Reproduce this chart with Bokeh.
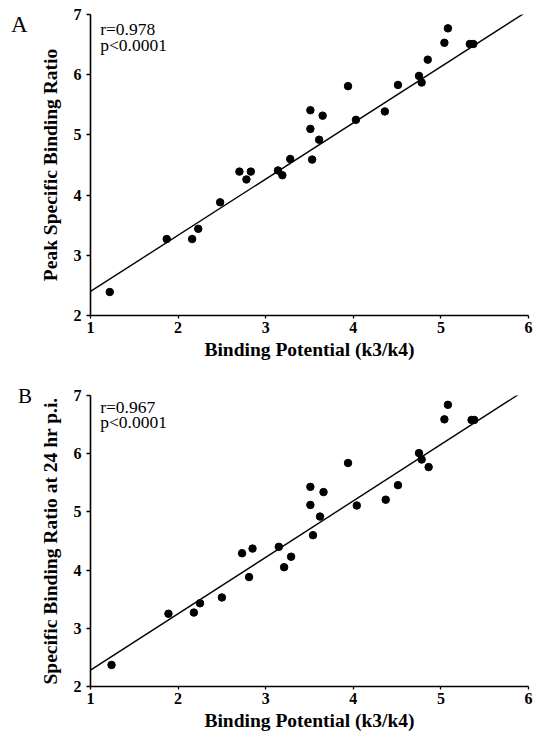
from bokeh.plotting import figure
from bokeh.models import Label, Div
from bokeh.layouts import column, row
from bokeh.embed import file_html
from bokeh.resources import INLINE

# ---- data ----
bp_a = [1.22, 1.87, 2.16, 2.23, 2.48, 2.70, 2.78, 2.83, 3.14, 3.19, 3.28, 3.53, 3.61, 3.51,
        3.51, 3.65, 3.94, 4.03, 4.36, 4.51, 4.75, 4.78, 4.85, 5.04, 5.08, 5.33, 5.37]
peak_ratio = [2.39, 3.27, 3.27, 3.44, 3.88, 4.39, 4.26, 4.39, 4.41, 4.33, 4.60, 4.59, 4.92, 5.10,
              5.41, 5.32, 5.81, 5.25, 5.39, 5.83, 5.98, 5.87, 6.25, 6.53, 6.77, 6.51, 6.51]
fit_a_x = [1.0, 5.94]
fit_a_y = [2.40, 7.01]

bp_b = [1.24, 1.89, 2.18, 2.25, 2.50, 2.73, 2.85, 2.81, 3.15, 3.21, 3.29, 3.51, 3.66, 3.51,
        3.62, 3.54, 3.94, 4.04, 4.37, 4.51, 4.75, 4.78, 4.86, 5.04, 5.08, 5.35, 5.38]
ratio_24h = [2.37, 3.25, 3.27, 3.43, 3.53, 4.29, 4.37, 3.88, 4.40, 4.05, 4.23, 5.43, 5.34, 5.12,
             4.92, 4.60, 5.84, 5.11, 5.21, 5.46, 6.01, 5.90, 5.77, 6.59, 6.84, 6.58, 6.58]
fit_b_x = [1.0, 5.95]
fit_b_y = [2.28, 7.08]

x_ticks = [1, 2, 3, 4, 5, 6]
y_ticks = [2, 3, 4, 5, 6, 7]

FONT = "Liberation Serif"
DIV_W = 36


def make_panel(xs, ys, fx, fy, rtext, r_y, ylabel, height, top, bottom):
    p = figure(width=498, height=height, x_range=(1, 6), y_range=(2, 7),
               output_backend="svg", toolbar_location=None,
               min_border_left=52, min_border_right=6,
               min_border_top=top, min_border_bottom=bottom)
    p.outline_line_color = None
    p.xgrid.visible = False
    p.ygrid.visible = False
    p.background_fill_color = "white"
    p.border_fill_color = "white"

    for ax in (p.xaxis[0], p.yaxis[0]):
        ax.axis_line_color = "black"
        ax.axis_line_width = 1.6
        ax.major_tick_line_color = "black"
        ax.major_tick_line_width = 1.3
        ax.major_tick_out = 4
        ax.major_tick_in = 0
        ax.minor_tick_line_color = "black"
        ax.minor_tick_out = 2
        ax.minor_tick_in = 0
        ax.major_label_text_font = FONT
        ax.major_label_text_font_style = "bold"
        ax.major_label_text_font_size = "16px"
        ax.major_label_text_color = "black"
        ax.axis_label_text_font = FONT
        ax.axis_label_text_font_style = "bold"
        ax.axis_label_text_font_size = "19.5px"
        ax.axis_label_text_color = "black"

    p.xaxis.ticker = x_ticks
    p.yaxis.ticker = y_ticks
    p.xaxis.axis_label = "Binding Potential (k3/k4)"
    p.yaxis.axis_label = ylabel
    p.xaxis.major_tick_out = 3
    p.xaxis.major_label_standoff = 3
    p.xaxis.axis_label_standoff = 3
    p.yaxis.major_label_standoff = 5
    p.yaxis.axis_label_standoff = 10

    p.line(fx, fy, line_color="black", line_width=1.4)
    p.scatter(xs, ys, size=7.5, color="black")

    p.add_layout(Label(x=1.11, y=r_y[0], text=rtext[0], text_font=FONT,
                       text_font_size="17.5px", text_color="black", text_baseline="top"))
    p.add_layout(Label(x=1.11, y=r_y[1], text=rtext[1], text_font=FONT,
                       text_font_size="17.5px", text_color="black", text_baseline="top"))
    return p


def letter_div(letter, height, pad_left, pad_top, size):
    html = ('<div style="font-family:\'Liberation Serif\';font-size:%dpx;line-height:%dpx;'
            'color:black;padding-left:%dpx;padding-top:%dpx;">%s</div>'
            % (size, size, pad_left, pad_top, letter))
    return Div(text=html, width=DIV_W, height=height, margin=(0, 0, 0, 0))


H_A, H_B = 385, 351
pa = make_panel(bp_a, peak_ratio, fit_a_x, fit_a_y, ["r=0.978", "p<0.0001"], (6.93, 6.66),
                "Peak Specific Binding Ratio", H_A, 14, 70)
pb = make_panel(bp_b, ratio_24h, fit_b_x, fit_b_y, ["r=0.967", "p<0.0001"], (6.98, 6.71),
                "Specific Binding Ratio at 24 hr p.i.", H_B, 10, 50)

layout = column(row(letter_div("A", H_A, 11, 13, 23), pa, spacing=0),
                row(letter_div("B", H_B, 18, 1, 21), pb, spacing=0),
                spacing=0)
open("out.html", "w").write(file_html(layout, INLINE))
